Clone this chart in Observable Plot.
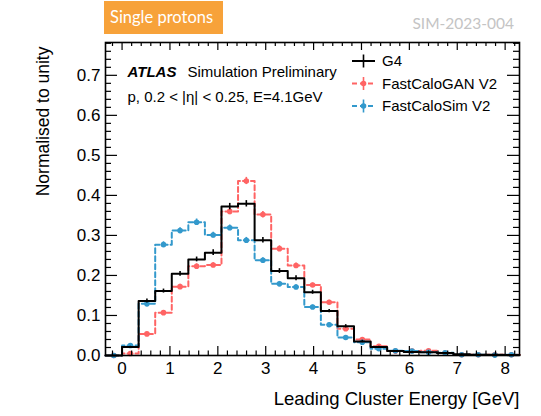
<!DOCTYPE html>
<html><head><meta charset="utf-8">
<script src="https://cdn.jsdelivr.net/npm/d3@7"></script>
<script src="https://cdn.jsdelivr.net/npm/@observablehq/plot@0.6"></script>
<style>body{margin:0;background:#fff;} svg{display:block}</style>
</head><body><div id="chart"></div>
<script>
// Binning (GeV)
const binStart = -0.346;
const binWidth = 0.346;
// Series values (normalised to unity)
const g4 = [0, 0.021, 0.136, 0.161, 0.204, 0.240, 0.257, 0.372, 0.379, 0.288, 0.211, 0.193, 0.158, 0.111, 0.073, 0.035, 0.021, 0.011, 0.009, 0.008, 0.006, 0.003, 0.002, 0.002, 0.001];
const g4Err = [0, 0.002, 0.005, 0.005, 0.006, 0.006, 0.007, 0.008, 0.008, 0.007, 0.006, 0.006, 0.005, 0.004, 0.004, 0.003, 0.002, 0.0015, 0.0015, 0.001, 0.001, 0.001, 0.001, 0.001, 0.001];
const gan = [0, 0.005, 0.054, 0.107, 0.172, 0.223, 0.226, 0.360, 0.436, 0.352, 0.267, 0.225, 0.176, 0.133, 0.067, 0.040, 0.023, 0.011, 0.011, 0.012, 0.006, 0.002, 0.002, 0.002, 0.002];
const ganErr = [0, 0.001, 0.003, 0.005, 0.006, 0.006, 0.006, 0.008, 0.009, 0.008, 0.007, 0.006, 0.005, 0.005, 0.003, 0.003, 0.002, 0.0015, 0.0015, 0.0015, 0.001, 0.001, 0.001, 0.001, 0.001];
const fcs = [0, 0.025, 0.129, 0.277, 0.312, 0.333, 0.301, 0.319, 0.288, 0.238, 0.179, 0.171, 0.121, 0.077, 0.045, 0.033, 0.017, 0.012, 0.011, 0.008, 0.007, 0.002, 0.002, 0.001, 0.002];
const fcsErr = [0, 0.002, 0.005, 0.007, 0.007, 0.008, 0.007, 0.007, 0.007, 0.006, 0.006, 0.006, 0.005, 0.004, 0.003, 0.003, 0.002, 0.0015, 0.0015, 0.001, 0.001, 0.001, 0.001, 0.001, 0.001];
// Axis ticks
const xMajorTicks = [0, 1, 2, 3, 4, 5, 6, 7, 8];
const yMajorTicks = [0, 0.1, 0.2, 0.3, 0.4, 0.5, 0.6, 0.7];
const seriesNames = ["G4", "FastCaloGAN V2", "FastCaloSim V2"];

const cBlack = "#000000", cRed = "#ff6464", cBlue = "#3399cc";
const FONT = "'Liberation Sans', Arial, Helvetica, sans-serif";

function bins(values, errs) {
  return values.map((v, i) => ({mid: binStart + (i + 0.5) * binWidth, v, e: errs[i]}));
}
function steps(values) {
  const pts = values.map((v, i) => ({x: binStart + i * binWidth, y: v}));
  pts.push({x: binStart + values.length * binWidth, y: values[values.length - 1]});
  return pts;
}

const W = 541, H = 416, mT = 42, mL = 105, mR = 22, mB = 61;
const fw = W - mL - mR, fh = H - mT - mB;

const xMinor = d3.range(-1, 42).filter(i => i % 5 !== 0).map(i => i * 0.2);
const yMinor = d3.range(1, 40).filter(i => i % 5 !== 0).map(i => i * 0.02);

function histMarks(vals, errs, color, dashed, markers) {
  const m = [
    Plot.line(steps(vals), {x: "x", y: "y", curve: "step-after", stroke: color, strokeWidth: 2, strokeDasharray: dashed ? "5,3" : null}),
    Plot.ruleX(bins(vals, errs).filter(d => d.v > 0), {x: "mid", y1: d => d.v - d.e, y2: d => d.v + d.e, stroke: color, strokeWidth: 1.6})
  ];
  if (markers) m.push(Plot.dot(bins(vals, errs), {x: "mid", y: "v", r: 2.8, fill: color, stroke: "none"}));
  return m;
}

const plot = Plot.plot({
  width: W, height: H,
  marginTop: mT, marginLeft: mL, marginRight: mR, marginBottom: mB,
  style: {fontFamily: FONT, fontSize: "17px", color: "#000", background: "#fff", overflow: "visible"},
  x: {domain: [binStart, 8.3], ticks: xMajorTicks, tickSize: 0, tickPadding: 6, label: null},
  y: {domain: [0, 0.782], ticks: yMajorTicks, tickSize: 0, tickPadding: 5, label: null},
  marks: [
    ...histMarks(gan, ganErr, cRed, true, true),
    ...histMarks(fcs, fcsErr, cBlue, true, true),
    ...histMarks(g4, g4Err, cBlack, false, false),
    // inward ticks on all four sides
    Plot.ruleX(xMajorTicks, {x: d => d, insetTop: fh - 9, stroke: "#000", strokeWidth: 1.2}),
    Plot.ruleX(xMinor, {x: d => d, insetTop: fh - 4.5, stroke: "#000", strokeWidth: 1.2}),
    Plot.ruleX(xMajorTicks, {x: d => d, insetBottom: fh - 8, stroke: "#000", strokeWidth: 1.2}),
    Plot.ruleX(xMinor, {x: d => d, insetBottom: fh - 4, stroke: "#000", strokeWidth: 1.2}),
    Plot.ruleY(yMajorTicks, {y: d => d, insetRight: fw - 12, stroke: "#000", strokeWidth: 1.2}),
    Plot.ruleY(yMinor, {y: d => d, insetRight: fw - 6, stroke: "#000", strokeWidth: 1.2}),
    Plot.ruleY(yMajorTicks, {y: d => d, insetLeft: fw - 12, stroke: "#000", strokeWidth: 1.2}),
    Plot.ruleY(yMinor, {y: d => d, insetLeft: fw - 6, stroke: "#000", strokeWidth: 1.2}),
    Plot.frame({stroke: "#000", strokeWidth: 1.6}),
    // axis titles
    Plot.text(["Leading Cluster Energy [GeV]"], {frameAnchor: "bottom-right", textAnchor: "end", lineAnchor: "middle", dy: 44, dx: 0, fontSize: 18.5, fill: "#000"}),
    Plot.text(["Normalised to unity"], {frameAnchor: "top-left", textAnchor: "end", lineAnchor: "middle", rotate: -90, dx: -62, dy: 4, fontSize: 17.5, fill: "#000"}),
    // ATLAS label
    Plot.text(["ATLAS"], {frameAnchor: "top-left", textAnchor: "start", lineAnchor: "middle", dx: 22, dy: 30, fontSize: 15, fontWeight: "bold", fontStyle: "italic", fill: "#000"}),
    Plot.text(["Simulation Preliminary"], {frameAnchor: "top-left", textAnchor: "start", lineAnchor: "middle", dx: 82, dy: 30, fontSize: 15, fill: "#000"}),
    Plot.text(["p, 0.2 < |η| < 0.25, E=4.1GeV"], {frameAnchor: "top-left", textAnchor: "start", lineAnchor: "middle", dx: 22, dy: 55, fontSize: 15, fill: "#000"})
  ]
});

const svg = d3.select(plot);
// Header box and reference
svg.append("rect").attr("x", 104).attr("y", 1).attr("width", 119).attr("height", 33).attr("fill", "#f7a23a");
svg.append("text").attr("x", 110).attr("y", 23.3).attr("text-anchor", "start").attr("fill", "#fff").attr("font-family", "Lato, 'Open Sans', sans-serif").attr("font-size", 16.5).text("Single protons");
svg.append("text").attr("x", 514).attr("y", 29.3).attr("text-anchor", "end").attr("fill", "#c4c4c4").attr("font-family", "Lato, 'Open Sans', sans-serif").attr("font-size", 15.5).text("SIM-2023-004");

// Legend
const leg = svg.append("g");
const legRows = [
  {name: seriesNames[0], color: cBlack, dash: null, dot: false, y: 61},
  {name: seriesNames[1], color: cRed, dash: "5,3", dot: true, y: 83.5},
  {name: seriesNames[2], color: cBlue, dash: "5,3", dot: true, y: 106}
];
legRows.forEach(r => {
  leg.append("line").attr("x1", 352).attr("x2", 375).attr("y1", r.y).attr("y2", r.y).attr("stroke", r.color).attr("stroke-width", 2).attr("stroke-dasharray", r.dash);
  leg.append("line").attr("x1", 363.5).attr("x2", 363.5).attr("y1", r.y - 6.5).attr("y2", r.y + 6.5).attr("stroke", r.color).attr("stroke-width", 1.6);
  if (r.dot) leg.append("circle").attr("cx", 363.5).attr("cy", r.y).attr("r", 2.8).attr("fill", r.color);
  leg.append("text").attr("x", 382).attr("y", r.y).attr("dy", "0.36em").attr("text-anchor", "start").attr("font-family", FONT).attr("font-size", 15).attr("fill", "#000").text(r.name);
});

document.getElementById("chart").appendChild(plot);
</script>
</body></html>
